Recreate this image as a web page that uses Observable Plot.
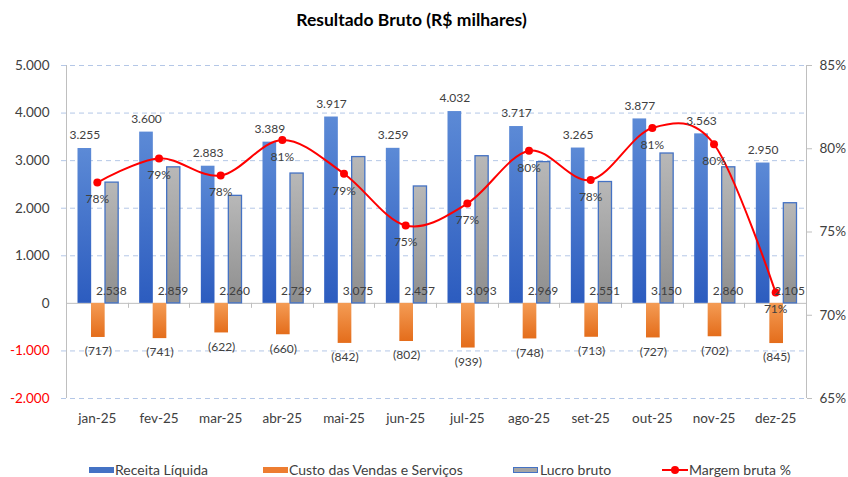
<!DOCTYPE html>
<html><head><meta charset="utf-8">
<script src="https://cdn.jsdelivr.net/npm/d3@7"></script>
<script src="https://cdn.jsdelivr.net/npm/@observablehq/plot@0.6"></script>
<style>
body{margin:0;background:#fff;font-family:Lato,sans-serif;}
#wrap{position:relative;width:848px;height:477px;overflow:hidden;background:#fff;}
#title{position:absolute;left:0;top:0;width:823px;height:40px;line-height:40px;text-align:center;font-weight:bold;font-size:17.5px;color:#000;}
#chart{position:absolute;left:0;top:40px;}
#legend{position:absolute;left:0;top:450px;width:848px;height:27px;font-size:14px;color:#404040;}
.sw{position:absolute;top:17px;height:6px;width:25px;box-sizing:border-box;}
.lt{position:absolute;top:11px;line-height:18px;white-space:nowrap;}
</style></head>
<body>
<svg width="0" height="0" style="position:absolute">
<defs>
<linearGradient id="gBlue" x1="0" y1="0" x2="0" y2="1"><stop offset="0" stop-color="#5c8ad6"/><stop offset="1" stop-color="#2c5cbf"/></linearGradient>
<linearGradient id="gOrange" x1="0" y1="0" x2="0" y2="1"><stop offset="0" stop-color="#f49c55"/><stop offset="1" stop-color="#e46d1b"/></linearGradient>
<linearGradient id="gGray" x1="0" y1="0" x2="0" y2="1"><stop offset="0" stop-color="#b8b8b8"/><stop offset="1" stop-color="#8e8e8e"/></linearGradient>
</defs></svg>
<div id="wrap">
<div id="title">Resultado Bruto (R$ milhares)</div>
<div id="chart"></div>
<div id="legend">
  <div class="sw" style="left:89px;background:#4472c4"></div><div class="lt" style="left:115px">Receita Líquida</div>
  <div class="sw" style="left:263px;background:#ed7d31"></div><div class="lt" style="left:289px">Custo das Vendas e Serviços</div>
  <div class="sw" style="left:513px;background:#a5a5a5;border:1px solid #4472c4"></div><div class="lt" style="left:540px">Lucro bruto</div>
  <svg style="position:absolute;left:661px;top:14px" width="28" height="12"><line x1="1" x2="27" y1="6" y2="6" stroke="#ff0000" stroke-width="2"/><circle cx="14" cy="6" r="4" fill="#ff0000"/></svg>
  <div class="lt" style="left:689px">Margem bruta %</div>
</div>
</div>
<script>
const months = ["jan-25","fev-25","mar-25","abr-25","mai-25","jun-25","jul-25","ago-25","set-25","out-25","nov-25","dez-25"];
const receita = [3255,3600,2883,3389,3917,3259,4032,3717,3265,3877,3563,2950];
const custo = [-717,-741,-622,-660,-842,-802,-939,-748,-713,-727,-702,-845];
const lucro = [2538,2859,2260,2729,3075,2457,3093,2969,2551,3150,2860,2105];
const margem = [77.97,79.42,78.39,80.53,78.50,75.39,76.71,79.88,78.13,81.25,80.27,71.36];
const yTicks = [-2000,-1000,0,1000,2000,3000,4000,5000];
const pctTicks = [65,70,75,80,85];
const yDomain = [-2000, 5000];
const pctDomain = [65, 85];

const data = months.map((m, i) => ({month: m, receita: receita[i], custo: custo[i], lucro: lucro[i], margem: margem[i]}));
const pct2y = d3.scaleLinear(pctDomain, yDomain);
const loc = d3.formatLocale({decimal: ",", thousands: ".", grouping: [3], currency: ["R$ ", ""], minus: "-"});
const fmt = loc.format(",d");

const chart = Plot.plot({
  width: 848, height: 410,
  marginTop: 25, marginBottom: 52, marginLeft: 66, marginRight: 42,
  style: {fontFamily: "Lato, sans-serif", fontSize: "13.5px", color: "#404040", background: "transparent", overflow: "visible"},
  x: {type: "band", domain: months, padding: 0, round: false, label: null},
  y: {domain: yDomain, label: null},
  marks: [
    Plot.ruleY(yTicks.filter(d => d !== 0), {stroke: "#b4c7e7", strokeWidth: 1, strokeDasharray: "5,4", insetLeft: -5}),
    Plot.ruleY([0], {stroke: "#bfbfbf", strokeWidth: 1}),
    Plot.barY(data, {x: "month", y: "receita", fill: "url(#gBlue)", insetLeft: 11.5, insetRight: 36.5}),
    Plot.barY(data, {x: "month", y: "custo", fill: "url(#gOrange)", insetLeft: 25, insetRight: 23}),
    Plot.barY(data, {x: "month", y: "lucro", fill: "url(#gGray)", stroke: "#4472c4", strokeWidth: 1.3, insetLeft: 39, insetRight: 9.5}),
    Plot.line(data, {x: "month", y: d => pct2y(d.margem), stroke: "#ff0000", strokeWidth: 2, curve: "cardinal", tension: 0}),
    Plot.dot(data, {x: "month", y: d => pct2y(d.margem), r: 4, fill: "#ff0000", stroke: null}),
    Plot.text(data, {x: "month", y: "receita", text: d => fmt(d.receita), dx: -12.5, dy: -13, fontSize: 12, fill: "#404040"}),
    Plot.text(data, {x: "month", y: () => 0, text: d => fmt(d.lucro), dx: 14, dy: -12, fontSize: 12, fill: "#404040"}),
    Plot.text(data, {x: "month", y: "custo", text: d => "(" + fmt(-d.custo) + ")", dx: 1, dy: 14, fontSize: 12, fill: "#404040"}),
    Plot.text(data, {x: "month", y: d => pct2y(d.margem), text: d => Math.round(d.margem) + "%", dy: 17, fontSize: 12, fill: "#404040"}),
    Plot.axisY(yTicks.filter(d => d >= 0), {anchor: "left", tickSize: 0, tickPadding: 17, tickFormat: fmt, fill: "#404040", label: null}),
    Plot.axisY(yTicks.filter(d => d < 0), {anchor: "left", tickSize: 0, tickPadding: 17, tickFormat: fmt, fill: "#ff0000", label: null}),
    Plot.axisY(pctTicks.map(p => pct2y(p)), {anchor: "right", tickSize: 5, tickPadding: 8, stroke: "#bfbfbf", fill: "#404040", tickFormat: d => Math.round(pct2y.invert(d)) + "%", label: null}),
    Plot.axisX({tickSize: 0, tickPadding: 15, fill: "#404040", label: null})
  ]
});
document.getElementById("chart").appendChild(chart);

const xs = chart.scale("x"), ys = chart.scale("y");
const svg = d3.select(chart);
const g = svg.append("g").attr("stroke", "#bfbfbf").attr("stroke-width", 1).attr("fill", "none");
const xL = xs.range[0], xR = xs.range[1];
const yT = ys.apply(yDomain[1]), yB = ys.apply(yDomain[0]), y0 = ys.apply(0);
g.append("line").attr("x1", xL + 0.5).attr("x2", xL + 0.5).attr("y1", yT).attr("y2", yB);
g.append("line").attr("x1", xR + 0.5).attr("x2", xR + 0.5).attr("y1", yT).attr("y2", yB);
months.slice(1).forEach(m => {
  const xx = Math.round(xs.apply(m)) + 0.5;
  g.append("line").attr("x1", xx).attr("x2", xx).attr("y1", y0).attr("y2", y0 + 5);
});
</script>
</body></html>
